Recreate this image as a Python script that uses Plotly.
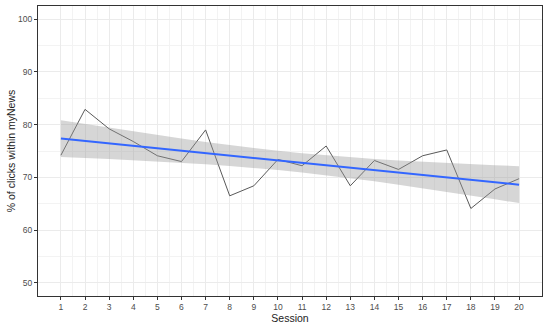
import numpy as np
import plotly.graph_objects as go

sessions = list(range(1, 21))
pct_clicks = [74.2, 82.9, 79.2, 76.8, 74.1, 73.0, 79.0, 66.5, 68.4, 73.4,
              72.2, 75.95, 68.4, 73.2, 71.5, 74.1, 75.2, 64.1, 67.8, 69.75]
x_ticks = sessions
y_ticks = [50, 60, 70, 80, 90, 100]

# linear fit with 95% confidence band (like geom_smooth(method="lm"))
x = np.array(sessions, dtype=float)
y = np.array(pct_clicks, dtype=float)
n = len(x)
b1, b0 = np.polyfit(x, y, 1)
fit = b0 + b1 * x
resid = y - fit
s = np.sqrt(np.sum(resid ** 2) / (n - 2))
sxx = np.sum((x - x.mean()) ** 2)
se = s * np.sqrt(1.0 / n + (x - x.mean()) ** 2 / sxx)
t = 2.100922
upper = fit + t * se
lower = fit - t * se

fig = go.Figure()
fig.add_trace(go.Scatter(x=sessions, y=pct_clicks, mode="lines",
                         line=dict(color="#595959", width=1), showlegend=False))
fig.add_trace(go.Scatter(x=list(x) + list(x[::-1]), y=list(upper) + list(lower[::-1]),
                         fill="toself", fillcolor="rgba(153,153,153,0.4)",
                         line=dict(width=0), mode="lines", showlegend=False,
                         hoverinfo="skip"))
fig.add_trace(go.Scatter(x=sessions, y=list(fit), mode="lines",
                         line=dict(color="#3366FF", width=2), showlegend=False))

axis_common = dict(
    showline=True, linecolor="#333333", linewidth=1, mirror=True,
    ticks="outside", ticklen=3, tickcolor="#333333", tickwidth=1,
    gridcolor="#EBEBEB", gridwidth=1, zeroline=False, automargin=False,
    tickfont=dict(size=8.5, color="#4D4D4D"),
)

fig.update_xaxes(range=[0.05, 20.95], tickvals=x_ticks,
                 title=dict(text="Session", font=dict(size=10.5, color="#222222"), standoff=0),
                 minor=dict(tickvals=[v + 0.5 for v in x_ticks[:-1]], ticks="",
                            showgrid=True, gridcolor="#F3F3F3", gridwidth=1),
                 **axis_common)
fig.update_yaxes(range=[47.5, 102.5], tickvals=y_ticks,
                 title=dict(text="% of clicks within myNews", font=dict(size=10.5, color="#222222"), standoff=0),
                 minor=dict(tickvals=[55, 65, 75, 85, 95], ticks="",
                            showgrid=True, gridcolor="#F3F3F3", gridwidth=1),
                 **axis_common)

fig.update_layout(
    width=550, height=326,
    margin=dict(l=38, r=8, t=6, b=30, autoexpand=False),
    plot_bgcolor="white", paper_bgcolor="white",
    font=dict(family="Liberation Sans, Arial, sans-serif"),
)

fig.write_html("out.html", config={"displayModeBar": False},
               post_script="document.body.style.margin='0';")
